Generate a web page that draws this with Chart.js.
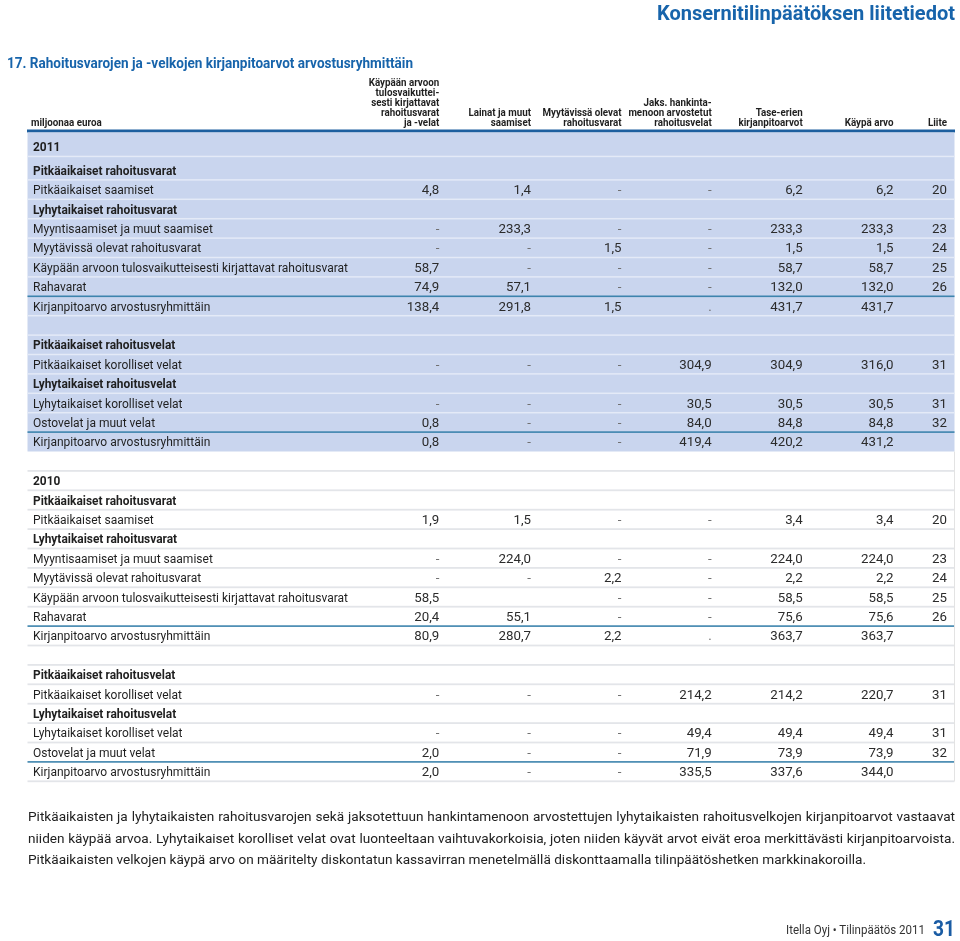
<!DOCTYPE html>
<html lang="fi">
<head>
<meta charset="utf-8">
<title>Rahoitusvarojen ja -velkojen kirjanpitoarvot arvostusryhmittäin</title>
<script src="https://cdn.jsdelivr.net/npm/chart.js@4/dist/chart.umd.min.js"></script>
<style>
html,body{margin:0;padding:0;background:#fff;overflow:hidden}
#page{position:relative;width:960px;height:941px;font-family:Roboto,"Open Sans",sans-serif}
#c{position:absolute;left:0;top:0}
.tx{position:absolute;white-space:nowrap;line-height:1;transform-origin:0 50%}
.fn{font-size:13px;color:#222}
</style>
</head>
<body>
<div id="page">
<canvas id="c" width="960" height="941"></canvas>
<div class="tx" style="font-size:20px;font-weight:700;color:#1764ab" data-right="955" data-cy="12.5" data-w="298">Konsernitilinpäätöksen liitetiedot</div>
<div class="tx" style="font-size:15px;font-weight:700;color:#1764ab" data-left="7" data-cy="63.3" data-w="406">17. Rahoitusvarojen ja -velkojen kirjanpitoarvot arvostusryhmittäin</div>
<div class="tx fn" data-left="28" data-cy="816" data-w="927" data-justify="1">Pitkäaikaisten ja lyhytaikaisten rahoitusvarojen sekä jaksotettuun hankintamenoon arvostettujen lyhytaikaisten rahoitusvelkojen kirjanpitoarvot vastaavat</div>
<div class="tx fn" data-left="28" data-cy="838" data-w="927" data-justify="1">niiden käypää arvoa. Lyhytaikaiset korolliset velat ovat luonteeltaan vaihtuvakorkoisia, joten niiden käyvät arvot eivät eroa merkittävästi kirjanpitoarvoista.</div>
<div class="tx fn" data-left="28" data-cy="859" data-w="838">Pitkäaikaisten velkojen käypä arvo on määritelty diskontatun kassavirran menetelmällä diskonttaamalla tilinpäätöshetken markkinakoroilla.</div>
<div class="tx" style="font-size:12px;color:#333" data-left="786" data-cy="930" data-w="139">Itella Oyj • Tilinpäätös 2011</div>
<div class="tx" style="font-size:22px;font-weight:700;color:#1a5ca4" data-left="933" data-cy="929" data-w="22">31</div>
</div>
<script>
// ---------------- DATA ----------------
const years = ['2011', '2010'];
const unitLabel = 'miljoonaa euroa';
const columnHeaders = [
  ['Käypään arvoon', 'tulosvaikuttei-', 'sesti kirjattavat', 'rahoitusvarat', 'ja -velat'],
  ['Lainat ja muut', 'saamiset'],
  ['Myytävissä olevat', 'rahoitusvarat'],
  ['Jaks. hankinta-', 'menoon arvostetut', 'rahoitusvelat'],
  ['Tase-erien', 'kirjanpitoarvot'],
  ['Käypä arvo'],
  ['Liite']
];
const rowLabels = [
  'Pitkäaikaiset rahoitusvarat',
  'Pitkäaikaiset saamiset',
  'Lyhytaikaiset rahoitusvarat',
  'Myyntisaamiset ja muut saamiset',
  'Myytävissä olevat rahoitusvarat',
  'Käypään arvoon tulosvaikutteisesti kirjattavat rahoitusvarat',
  'Rahavarat',
  'Kirjanpitoarvo arvostusryhmittäin',
  '',
  'Pitkäaikaiset rahoitusvelat',
  'Pitkäaikaiset korolliset velat',
  'Lyhytaikaiset rahoitusvelat',
  'Lyhytaikaiset korolliset velat',
  'Ostovelat ja muut velat',
  'Kirjanpitoarvo arvostusryhmittäin'
];
const boldRows = [0, 2, 9, 11];
const totalRows = [7, 14];

// null = "-" ; '' = empty cell ; other strings shown as is
const fvtpl2011    = ['', 4.8, '', null, null, 58.7, 74.9, 138.4, '', '', null, '', null, 0.8, 0.8];
const loans2011    = ['', 1.4, '', 233.3, null, null, 57.1, 291.8, '', '', null, '', null, null, null];
const afs2011      = ['', null, '', null, 1.5, null, null, 1.5, '', '', null, '', null, null, null];
const amort2011    = ['', null, '', null, null, null, null, '.', '', '', 304.9, '', 30.5, 84.0, 419.4];
const carrying2011 = ['', 6.2, '', 233.3, 1.5, 58.7, 132.0, 431.7, '', '', 304.9, '', 30.5, 84.8, 420.2];
const fair2011     = ['', 6.2, '', 233.3, 1.5, 58.7, 132.0, 431.7, '', '', 316.0, '', 30.5, 84.8, 431.2];
const note2011     = ['', 20, '', 23, 24, 25, 26, '', '', '', 31, '', 31, 32, ''];

const fvtpl2010    = ['', 1.9, '', null, null, 58.5, 20.4, 80.9, '', '', null, '', null, 2.0, 2.0];
const loans2010    = ['', 1.5, '', 224.0, null, '', 55.1, 280.7, '', '', null, '', null, null, null];
const afs2010      = ['', null, '', null, 2.2, null, null, 2.2, '', '', null, '', null, null, null];
const amort2010    = ['', null, '', null, null, null, null, '.', '', '', 214.2, '', 49.4, 71.9, 335.5];
const carrying2010 = ['', 3.4, '', 224.0, 2.2, 58.5, 75.6, 363.7, '', '', 214.2, '', 49.4, 73.9, 337.6];
const fair2010     = ['', 3.4, '', 224.0, 2.2, 58.5, 75.6, 363.7, '', '', 220.7, '', 49.4, 73.9, 344.0];
const note2010     = ['', 20, '', 23, 24, 25, 26, '', '', '', 31, '', 31, 32, ''];

// ---------------- LAYOUT / STYLE ----------------
const LAYOUT = {
  W: 960, H: 941,
  labelX: 33, headLabelX: 31,
  colRight: [439.3, 531, 621.5, 711.7, 802.7, 893.5, 947],
  rowPx: 19.4, row1Px: 171.7,
  sectionRows: 17,
  yearNudge: [-0.21, 0],
  tableLeft: 27.5, tableRight: 954.5,
  headRuleY: 129.5, headRuleH: 3,
  headBottomY: 123.3, headLineH: 10,
  sepBelow: 8.2
};
const STYLE = {
  labelFont: '12px Roboto', boldFont: 'bold 12px Roboto', numFont: '12px Roboto', headFont: 'bold 10px Roboto',
  fit: { label: ['Käypään arvoon tulosvaikutteisesti kirjattavat rahoitusvarat', 315],
         bold: ['Pitkäaikaiset rahoitusvarat', 143.3],
         num: ['431,7', 32.5],
         head: ['Myytävissä olevat', 79] },
  text: '#1f1f1f', num: '#2b2b2b', dash: '#6f6f6f',
  band: '#c9d5ee', bandSep: '#e4eaf7', greySep: '#e3e5e9', total: '#3d84ad', rule: '#1d5f9f', edge: '#e3e3e3'
};

const Y_MIN = 1 - LAYOUT.row1Px / LAYOUT.rowPx;
const Y_MAX = Y_MIN + LAYOUT.H / LAYOUT.rowPx;

const sections = [
  { year: years[0], cols: [fvtpl2011, loans2011, afs2011, amort2011, carrying2011, fair2011, note2011] },
  { year: years[1], cols: [fvtpl2010, loans2010, afs2010, amort2010, carrying2010, fair2010, note2010] }
];
const rowValue = (s, i) => s * LAYOUT.sectionRows + 1 + i;
const yearValue = s => s * LAYOUT.sectionRows + LAYOUT.yearNudge[s];
const fmtCell = (v, isNote) => v === null ? '-' :
  (typeof v === 'number' ? (isNote ? String(v) : v.toFixed(1).replace('.', ',')) : v);

// datasets built from the arrays
const datasets = [];
sections.forEach((sec, s) => {
  const labelPts = [{ x: LAYOUT.labelX, y: yearValue(s), text: sec.year, bold: true }];
  rowLabels.forEach((l, i) => labelPts.push({ x: LAYOUT.labelX, y: rowValue(s, i), text: l, bold: boldRows.includes(i) }));
  datasets.push({ label: sec.year + ' rivit', kind: 'label', data: labelPts });
  sec.cols.forEach((col, c) => {
    datasets.push({
      label: sec.year + ' ' + columnHeaders[c].join(' '), kind: 'cell',
      data: col.map((v, i) => ({ x: LAYOUT.colRight[c], y: rowValue(s, i), text: fmtCell(v, c === 6) }))
    });
  });
});

function put(ctx, text, x, y, align, font, color, sx) {
  ctx.save();
  ctx.font = font; ctx.fillStyle = color; ctx.textAlign = align; ctx.textBaseline = 'middle';
  ctx.translate(x, y); ctx.scale(sx, 1); ctx.fillText(text, 0, 0);
  ctx.restore();
}

const tablePlugin = {
  id: 'tablePlugin',
  beforeDatasetsDraw(chart) {
    const ctx = chart.ctx, ys = chart.scales.y, P = v => ys.getPixelForValue(v);
    const L = LAYOUT.tableLeft, R = LAYOUT.tableRight, sb = LAYOUT.sepBelow;
    ctx.save();
    // header rule
    ctx.fillStyle = STYLE.rule;
    ctx.fillRect(L - 0.5, LAYOUT.headRuleY, R - L + 1, LAYOUT.headRuleH);
    // 2011 band
    const top = LAYOUT.headRuleY + LAYOUT.headRuleH;
    const bandBottom = P(rowValue(0, rowLabels.length - 1)) + sb;
    ctx.fillStyle = STYLE.band;
    ctx.fillRect(L, top, R - L, bandBottom - top);
    const hline = (y, color, w) => { ctx.fillStyle = color; ctx.fillRect(L, y - w / 2, R - L, w); };
    // 2011 separators
    hline(P(yearValue(0)) + sb, STYLE.bandSep, 1.5);
    for (let i = 0; i < rowLabels.length - 1; i++) {
      const isTot = totalRows.includes(i + 1);
      hline(P(rowValue(0, i)) + sb, isTot ? STYLE.total : STYLE.bandSep, isTot ? 1.6 : 1.5);
    }
    // 2010 separators
    hline(P(rowValue(0, rowLabels.length)) + sb, STYLE.greySep, 1.8);
    hline(P(yearValue(1)) + sb, STYLE.greySep, 1.8);
    for (let i = 0; i < rowLabels.length; i++) {
      const isTot = totalRows.includes(i + 1);
      hline(P(rowValue(1, i)) + sb, isTot ? STYLE.total : STYLE.greySep, isTot ? 1.6 : 1.8);
    }
    // right edge
    ctx.fillStyle = STYLE.edge;
    ctx.fillRect(R - 0.5, bandBottom, 1, P(rowValue(1, rowLabels.length - 1)) + sb - bandBottom);
    ctx.restore();
  },
  afterDatasetsDraw(chart) {
    const ctx = chart.ctx;
    const fit = (font, ref) => { ctx.save(); ctx.font = font; const w = ctx.measureText(ref[0]).width; ctx.restore(); return ref[1] / w; };
    const fLabel = fit(STYLE.labelFont, STYLE.fit.label);
    const fBold = fit(STYLE.boldFont, STYLE.fit.bold);
    const fNum = fit(STYLE.numFont, STYLE.fit.num);
    const fHead = fit(STYLE.headFont, STYLE.fit.head);
    // header
    put(ctx, unitLabel, LAYOUT.headLabelX, LAYOUT.headBottomY, 'left', STYLE.headFont, STYLE.text, fHead);
    columnHeaders.forEach((lines, c) => {
      lines.forEach((ln, k) => {
        const y = LAYOUT.headBottomY - (lines.length - 1 - k) * LAYOUT.headLineH;
        put(ctx, ln, LAYOUT.colRight[c], y, 'right', STYLE.headFont, STYLE.text, fHead);
      });
    });
    // body
    chart.data.datasets.forEach((ds, di) => {
      const meta = chart.getDatasetMeta(di);
      meta.data.forEach((el, j) => {
        const pt = ds.data[j];
        if (!pt.text) return;
        if (ds.kind === 'label') {
          put(ctx, pt.text, el.x, el.y, 'left', pt.bold ? STYLE.boldFont : STYLE.labelFont, STYLE.text, pt.bold ? fBold : fLabel);
        } else {
          const isDash = pt.text === '-' || pt.text === '.';
          put(ctx, pt.text, el.x, el.y, 'right', STYLE.numFont, isDash ? STYLE.dash : STYLE.num, fNum);
        }
      });
    });
  }
};

function fitHtml() {
  const els = [...document.querySelectorAll('.tx')];
  const nat = new Map();
  els.forEach(el => nat.set(el, el.getBoundingClientRect().width));
  let fnFactor = 1;
  els.forEach(el => { if (el.classList.contains('fn') && !el.dataset.justify) fnFactor = +el.dataset.w / nat.get(el); });
  els.forEach(el => {
    const S = parseFloat(getComputedStyle(el).fontSize);
    const w = +el.dataset.w;
    let f;
    if (el.classList.contains('fn')) {
      f = fnFactor;
      if (el.dataset.justify) {
        const spaces = (el.textContent.match(/ /g) || []).length;
        el.style.wordSpacing = ((w / f - nat.get(el)) / spaces) + 'px';
      }
    } else {
      f = w / nat.get(el);
    }
    const left = el.dataset.left !== undefined ? +el.dataset.left : +el.dataset.right - w;
    el.style.left = left + 'px';
    el.style.top = (+el.dataset.cy - 0.49 * S) + 'px';
    el.style.transform = 'scaleX(' + f + ')';
  });
}

function build() {
  fitHtml();
  new Chart(document.getElementById('c'), {
    type: 'scatter',
    data: { datasets },
    options: {
      responsive: false, animation: false, devicePixelRatio: 1, events: [],
      layout: { padding: 0 },
      elements: { point: { radius: 0, hoverRadius: 0, hitRadius: 0 } },
      plugins: { legend: { display: false }, tooltip: { enabled: false } },
      scales: {
        x: { type: 'linear', display: false, min: 0, max: LAYOUT.W },
        y: { type: 'linear', display: false, reverse: true, min: Y_MIN, max: Y_MAX }
      }
    },
    plugins: [tablePlugin]
  });
}
if (document.fonts && document.fonts.load) {
  Promise.all([
    document.fonts.load('12px Roboto'), document.fonts.load('bold 12px Roboto')
  ]).catch(() => {}).then(build);
} else build();
</script>
</body>
</html>
